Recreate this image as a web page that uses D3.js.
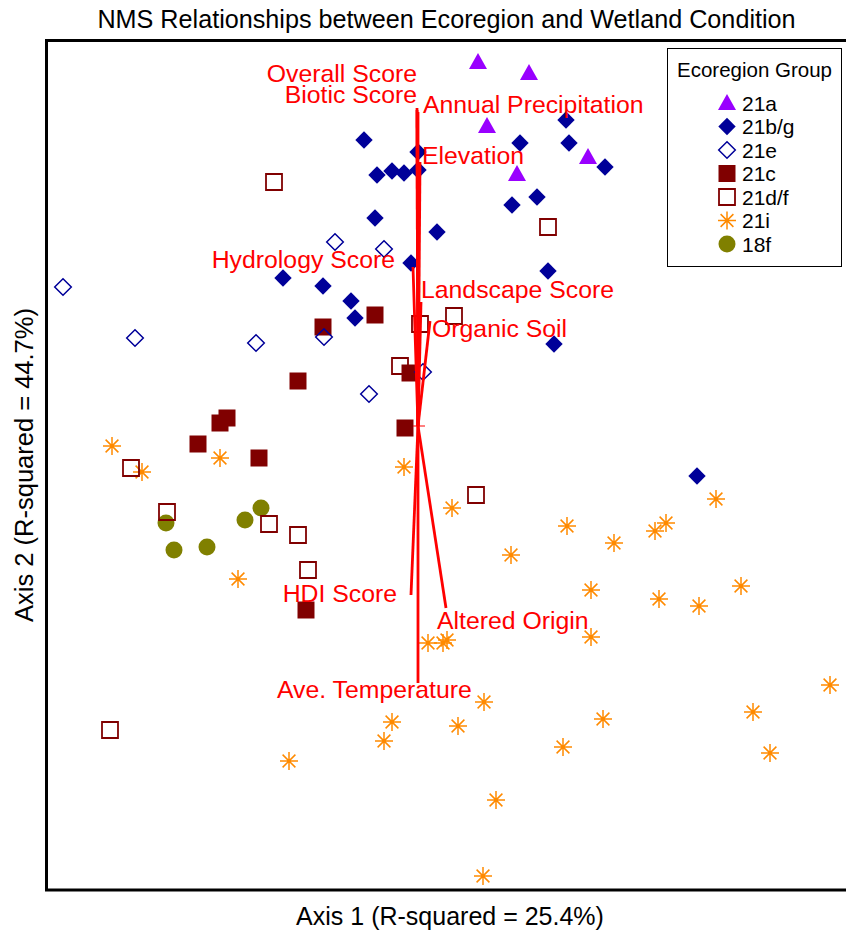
<!DOCTYPE html>
<html><head><meta charset="utf-8">
<script src="https://cdn.jsdelivr.net/npm/d3@7"></script>
<style>body{margin:0;background:#fff}svg{display:block}</style>
</head><body>
<svg id="chart" width="846" height="932"></svg>
<script>
// ---------------- DATA (NMS axis scores) ----------------
const groupNames = ["21a", "21b/g", "21e", "21c", "21d/f", "21i", "18f"];

const g21a = [[0.30,1.82],[0.555,1.765],[0.345,1.50],[0.495,1.26],[0.85,1.345]];
const g21bg = [[-0.27,1.43],[0.00,1.37],[-0.205,1.255],[-0.13,1.275],[-0.07,1.265],[0.00,1.28],
  [-0.215,1.04],[0.095,0.97],[-0.035,0.815],[-0.675,0.74],[-0.475,0.70],[-0.335,0.625],[-0.315,0.54],
  [0.51,1.415],[0.74,1.53],[0.755,1.415],[0.935,1.295],[0.47,1.105],[0.595,1.145],[0.65,0.775],
  [0.68,0.41],[1.395,-0.25]];
const g21e = [[-1.775,0.695],[-1.415,0.44],[-0.81,0.415],[-0.47,0.445],[-0.415,0.92],[-0.17,0.885],
  [-0.245,0.16],[0.025,0.27]];
const g21c = [[-0.475,0.495],[-0.215,0.555],[-0.60,0.225],[-0.955,0.04],[-0.99,0.015],[-1.10,-0.09],
  [-0.795,-0.16],[-0.04,0.265],[-0.065,-0.01],[-0.56,-0.92]];
const g21df = [[-0.72,1.22],[0.65,0.995],[0.18,0.55],[0.01,0.51],[-0.09,0.30],[0.29,-0.345],
  [-1.435,-0.21],[-1.255,-0.43],[-0.745,-0.49],[-0.60,-0.545],[-0.55,-0.72],[-1.54,-1.52]];
const g21i = [[-1.53,-0.10],[-1.38,-0.23],[-0.99,-0.16],[-0.90,-0.765],[-0.07,-0.205],[0.17,-0.41],
  [0.465,-0.645],[0.745,-0.50],[0.98,-0.585],[1.185,-0.525],[1.24,-0.485],[1.49,-0.365],[0.865,-0.82],
  [1.205,-0.865],[1.405,-0.90],[1.615,-0.80],[0.05,-1.085],[0.125,-1.085],[0.145,-1.07],[0.865,-1.055],
  [0.33,-1.38],[-0.13,-1.48],[-0.17,-1.575],[0.20,-1.50],[-0.645,-1.675],[0.925,-1.465],[0.725,-1.605],
  [1.675,-1.43],[1.76,-1.635],[2.06,-1.295],[0.39,-1.87],[0.325,-2.25]];
const g18f = [[-1.26,-0.485],[-1.22,-0.62],[-1.055,-0.605],[-0.865,-0.47],[-0.785,-0.41]];

// Environmental vectors (biplot)
const vectorNames = ["Overall Score","Biotic Score","Annual Precipitation","Elevation","Hydrology Score",
  "Landscape Score","Organic Soil","HDI Score","Altered Origin","Ave. Temperature"];
const vectorX = [-0.005,-0.005,0.0,0.01,-0.025,0.015,0.06,-0.035,0.14,0.0];
const vectorY = [1.59,1.58,1.57,1.32,0.795,0.62,0.525,-0.845,-0.91,-1.285];

const titleText = "NMS Relationships between Ecoregion and Wetland Condition";
const xAxisTitle = "Axis 1 (R-squared = 25.4%)";
const yAxisTitle = "Axis 2 (R-squared = 44.7%)";
const legendTitle = "Ecoregion Group";

// ---------------- STYLE / LAYOUT ----------------
const groupData = [g21a, g21bg, g21e, g21c, g21df, g21i, g18f];
const groupStyle = [
  {shape:"triangle", fill:"#9900FF", stroke:"none"},
  {shape:"diamond", fill:"#000099", stroke:"none"},
  {shape:"diamond", fill:"none", stroke:"#000099", sw:1.5, open:true},
  {shape:"square", fill:"#800000", stroke:"none"},
  {shape:"square", fill:"none", stroke:"#800000", sw:1.8, open:true},
  {shape:"asterisk", fill:"none", stroke:"#FF8A00", sw:1.5},
  {shape:"circle", fill:"#808000", stroke:"none"}
];
const drawOrder = [6,5,3,4,1,2,0];
// label placement (pixel offsets from vector tip)
const labelPlace = [
  {a:"end",dx:0,dy:-26},{a:"end",dx:0,dy:-7},{a:"start",dx:5,dy:1},{a:"start",dx:2,dy:2},
  {a:"end",dx:-18,dy:1},{a:"start",dx:0,dy:-4},{a:"start",dx:2,dy:16},{a:"end",dx:-14,dy:7},
  {a:"start",dx:-9,dy:21},{a:"start",dx:-141,dy:15}
];

const svg = d3.select("#chart");
const font = "'Liberation Sans', Arial, sans-serif";
const L = 46.5, R = 855, T = 40.5, B = 890;
const x = d3.scaleLinear().domain([-1.8575, 2.185]).range([L, R]);
const y = d3.scaleLinear().domain([-2.32, 1.9275]).range([B, T]);

function shapePath(shape, open) {
  if (shape === "triangle") return "M0,-9L9,7L-9,7Z";
  if (shape === "diamond") { const r = open ? 8.3 : 8.7; return `M0,${-r}L${r},0L0,${r}L${-r},0Z`; }
  if (shape === "square") { const h = open ? 8 : 8.5; return `M${-h},${-h}H${h}V${h}H${-h}Z`; }
  if (shape === "asterisk") { const r = 9, d = 6.4; return `M${-r},0H${r}M0,${-r}V${r}M${-d},${-d}L${d},${d}M${-d},${d}L${d},${-d}`; }
  return null;
}
function drawMarker(sel, st) {
  if (st.shape === "circle") {
    sel.append("circle").attr("r", 8.5).attr("fill", st.fill);
  } else {
    sel.append("path").attr("d", shapePath(st.shape, st.open))
      .attr("fill", st.fill).attr("stroke", st.stroke).attr("stroke-width", st.sw || 0);
  }
}

// title
svg.append("text").attr("x", 446.5).attr("y", 28).attr("text-anchor", "middle")
  .attr("font-family", font).attr("font-size", 25.2).attr("fill", "#000").text(titleText);

// plot area clip
svg.append("clipPath").attr("id", "clip").append("rect")
  .attr("x", L).attr("y", T).attr("width", R - L).attr("height", B - T);
const plot = svg.append("g").attr("clip-path", "url(#clip)");

// points
drawOrder.forEach(gi => {
  const st = groupStyle[gi];
  groupData[gi].forEach(p => {
    const g = plot.append("g").attr("transform", `translate(${x(p[0])},${y(p[1])})`);
    drawMarker(g, st);
  });
});

// vectors
const ox = x(0), oy = y(0);
plot.append("line").attr("x1", ox - 5).attr("x2", ox + 7).attr("y1", oy).attr("y2", oy)
  .attr("stroke", "#FF0000").attr("stroke-width", 1);
vectorNames.forEach((n, i) => {
  plot.append("line").attr("x1", ox).attr("y1", oy).attr("x2", x(vectorX[i])).attr("y2", y(vectorY[i]))
    .attr("stroke", "#FF0000").attr("stroke-width", 2.8);
});
vectorNames.forEach((n, i) => {
  const lp = labelPlace[i];
  svg.append("text").attr("x", x(vectorX[i]) + lp.dx).attr("y", y(vectorY[i]) + lp.dy)
    .attr("text-anchor", lp.a).attr("font-family", font).attr("font-size", 24.8)
    .attr("fill", "#FF0000").text(n);
});

// frame
svg.append("rect").attr("x", L).attr("y", T).attr("width", R - L).attr("height", B - T)
  .attr("fill", "none").attr("stroke", "#000").attr("stroke-width", 3);

// axis titles
svg.append("text").attr("x", 450).attr("y", 925).attr("text-anchor", "middle")
  .attr("font-family", font).attr("font-size", 25).text(xAxisTitle);
svg.append("text").attr("transform", "translate(33,465) rotate(-90)").attr("text-anchor", "middle")
  .attr("font-family", font).attr("font-size", 25.5).text(yAxisTitle);

// legend
const lg = svg.append("g");
lg.append("rect").attr("x", 667.5).attr("y", 48.5).attr("width", 174).attr("height", 218)
  .attr("fill", "#fff").attr("stroke", "#000").attr("stroke-width", 1);
lg.append("text").attr("x", 754.5).attr("y", 77).attr("text-anchor", "middle")
  .attr("font-family", font).attr("font-size", 20.5).text(legendTitle);
groupNames.forEach((n, i) => {
  const cy = 103 + i * 23.5;
  const g = lg.append("g").attr("transform", `translate(727,${cy})`);
  drawMarker(g, groupStyle[i]);
  lg.append("text").attr("x", 742).attr("y", cy + 7.5).attr("font-family", font)
    .attr("font-size", 21).text(n);
});
</script>
</body></html>
